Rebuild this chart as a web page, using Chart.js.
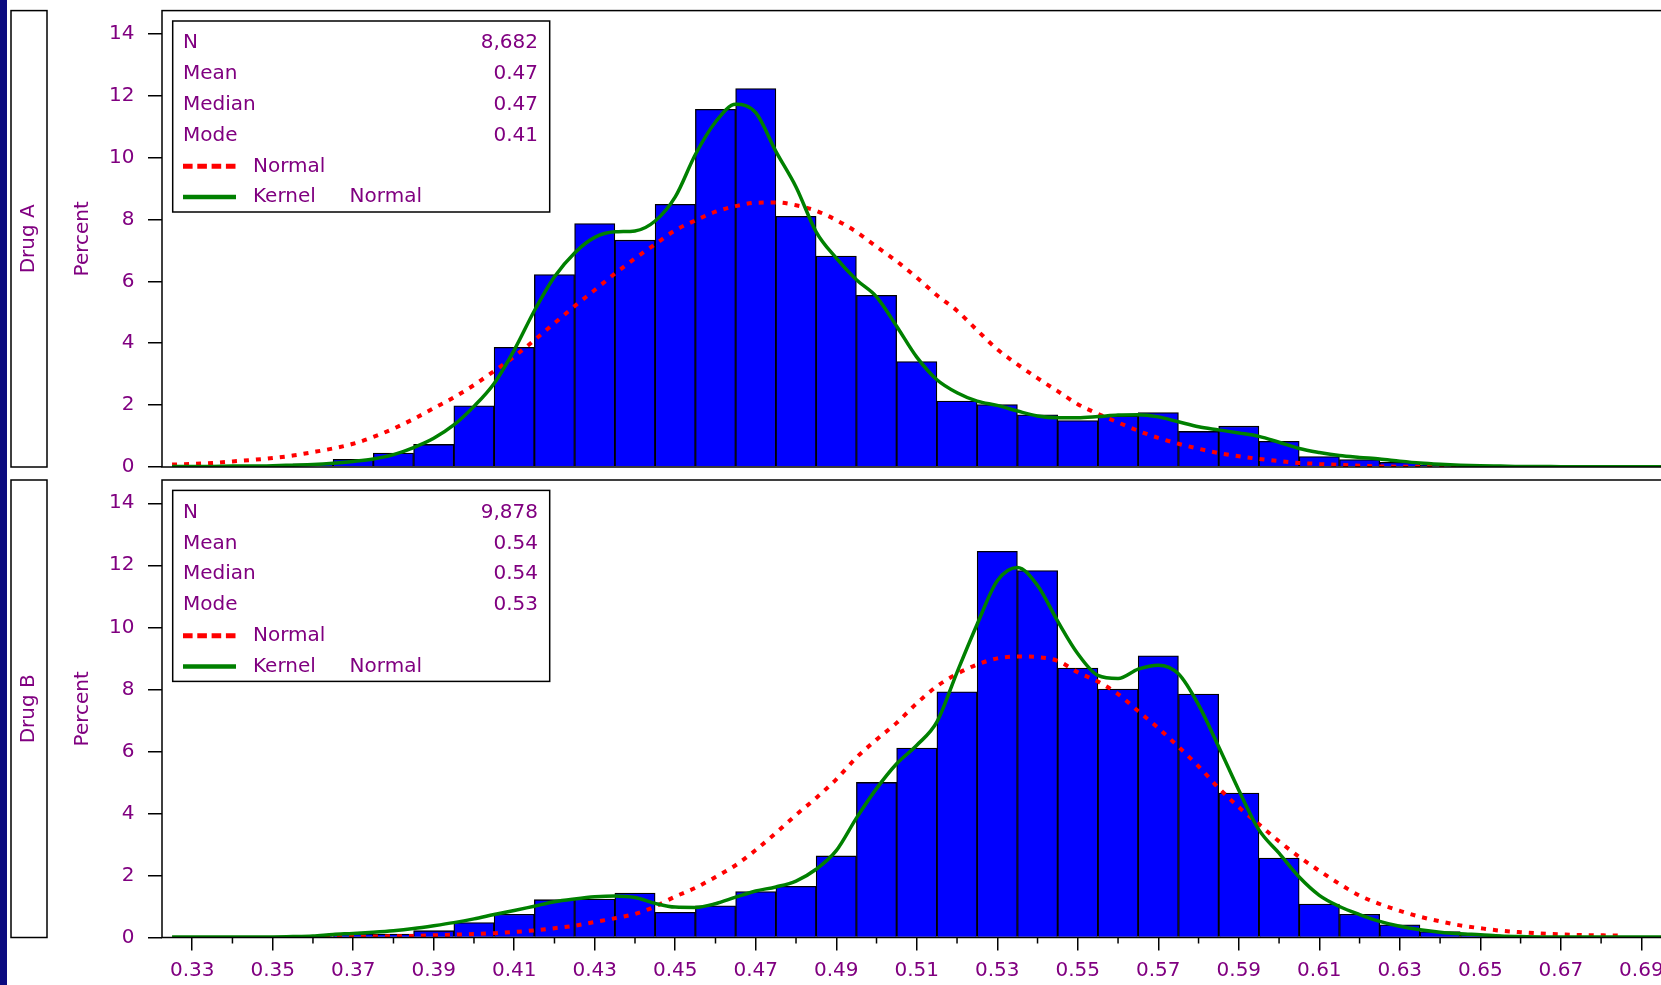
<!DOCTYPE html>
<html>
<head>
<meta charset="utf-8">
<title>Drug A / Drug B histograms</title>
<script src="https://cdn.jsdelivr.net/npm/chart.js@4.4.1/dist/chart.umd.min.js"></script>
<style>
  html, body { margin: 0; padding: 0; background: #fff; overflow: hidden; }
  body { width: 1661px; height: 985px; position: relative; }
  #navy { position: absolute; left: 0; top: 0; width: 7px; height: 985px; background: #0b0b80; }
  .panel { position: absolute; left: 0; }
  #panelA { top: 0; }
  #panelB { top: 470px; }
</style>
</head>
<body>
<div id="navy"></div>
<div class="panel" id="panelB"><canvas id="chartB" width="1680" height="515"></canvas></div>
<div class="panel" id="panelA"><canvas id="chartA" width="1680" height="482"></canvas></div>
<script>
// --- Data ---
const binCenters = [0.33, 0.34, 0.35, 0.36, 0.37, 0.38, 0.39, 0.40, 0.41, 0.42,
                    0.43, 0.44, 0.45, 0.46, 0.47, 0.48, 0.49, 0.50, 0.51, 0.52,
                    0.53, 0.54, 0.55, 0.56, 0.57, 0.58, 0.59, 0.60, 0.61, 0.62,
                    0.63, 0.64, 0.65, 0.66, 0.67, 0.68, 0.69];

const drugABars = [null, 0.02, 0.04, 0.10, 0.25, 0.45, 0.73, 1.98, 3.87, 6.22,
                   7.87, 7.33, 8.49, 11.56, 12.23, 8.10, 6.82, 5.55, 3.41, 2.13,
                   2.02, 1.69, 1.50, 1.65, 1.76, 1.15, 1.32, 0.83, 0.34, 0.24,
                   0.15, 0.05, null, null, null, null, null];

const drugBBars = [null, null, null, 0.03, 0.12, 0.11, 0.22, 0.48, 0.75, 1.22,
                   1.24, 1.43, 0.81, 1.02, 1.48, 1.65, 2.63, 5.00, 6.11, 7.92,
                   12.45, 11.83, 8.69, 8.01, 9.08, 7.85, 4.66, 2.56, 1.08, 0.75,
                   0.41, 0.19, 0.09, 0.03, null, null, null];

// x positions where the two fitted curves were read
const curveX = [0.325, 0.33, 0.335, 0.34, 0.345, 0.35, 0.355, 0.36, 0.365, 0.37,
                0.375, 0.38, 0.385, 0.39, 0.395, 0.40, 0.405, 0.41, 0.415, 0.42,
                0.425, 0.43, 0.435, 0.44, 0.445, 0.45, 0.455, 0.46, 0.465, 0.47,
                0.475, 0.48, 0.485, 0.49, 0.495, 0.50, 0.505, 0.51, 0.515, 0.52,
                0.525, 0.53, 0.535, 0.54, 0.545, 0.55, 0.555, 0.56, 0.565, 0.57,
                0.575, 0.58, 0.585, 0.59, 0.595, 0.60, 0.605, 0.61, 0.615, 0.62,
                0.625, 0.63, 0.635, 0.64, 0.645, 0.65, 0.655, 0.66, 0.665, 0.67,
                0.675, 0.68, 0.685, 0.69, 0.695];

const drugANormal = [0.08, 0.10, 0.13, 0.18, 0.23, 0.29, 0.37, 0.48, 0.60, 0.75,
                     0.97, 1.24, 1.55, 1.90, 2.25, 2.65, 3.10, 3.57, 4.10, 4.65,
                     5.20, 5.72, 6.25, 6.74, 7.20, 7.65, 7.97, 8.25, 8.43, 8.54,
                     8.55, 8.46, 8.28, 7.98, 7.60, 7.12, 6.65, 6.12, 5.55, 5.05,
                     4.42, 3.80, 3.32, 2.87, 2.45, 2.03, 1.72, 1.44, 1.17, 0.94,
                     0.75, 0.59, 0.45, 0.35, 0.26, 0.19, 0.13, 0.10, 0.07, 0.04,
                     0.02, 0.01, 0.01, 0.00, 0.00, null, null, null, null, null,
                     null, null, null, null, null];

const drugAKernel = [0.02, 0.02, 0.02, 0.03, 0.03, 0.04, 0.06, 0.08, 0.12, 0.18,
                     0.26, 0.40, 0.63, 0.93, 1.36, 1.96, 2.70, 3.78, 5.05, 6.15,
                     6.92, 7.42, 7.60, 7.63, 7.95, 8.73, 10.10, 11.15, 11.72, 11.45,
                     10.20, 9.05, 7.60, 6.75, 6.05, 5.50, 4.55, 3.55, 2.82, 2.40,
                     2.13, 1.99, 1.81, 1.65, 1.59, 1.59, 1.63, 1.68, 1.69, 1.62,
                     1.46, 1.30, 1.20, 1.10, 0.99, 0.80, 0.60, 0.47, 0.37, 0.31,
                     0.26, 0.19, 0.13, 0.09, 0.06, 0.04, 0.03, 0.02, 0.02, 0.01,
                     0.01, 0.01, 0.01, 0.01, 0.01];

const drugBNormal = [null, null, null, null, null, null, null, 0.00, 0.01, 0.02,
                     0.03, 0.04, 0.05, 0.07, 0.09, 0.11, 0.14, 0.18, 0.23, 0.30,
                     0.38, 0.50, 0.62, 0.76, 1.00, 1.32, 1.60, 1.95, 2.33, 2.82,
                     3.37, 3.95, 4.50, 5.10, 5.80, 6.38, 6.92, 7.55, 8.10, 8.50,
                     8.80, 9.00, 9.06, 9.04, 8.92, 8.55, 8.25, 7.85, 7.30, 6.75,
                     6.15, 5.52, 4.82, 4.20, 3.65, 3.10, 2.60, 2.15, 1.73, 1.35,
                     1.08, 0.86, 0.67, 0.52, 0.39, 0.30, 0.22, 0.17, 0.13, 0.10,
                     0.08, 0.07, 0.06, null, null];

const drugBKernel = [0.02, 0.02, 0.02, 0.02, 0.02, 0.02, 0.03, 0.05, 0.10, 0.13,
                     0.17, 0.22, 0.29, 0.38, 0.48, 0.60, 0.74, 0.87, 1.01, 1.15,
                     1.24, 1.31, 1.34, 1.29, 1.10, 0.98, 0.97, 1.09, 1.30, 1.50,
                     1.63, 1.82, 2.20, 2.80, 3.85, 4.80, 5.60, 6.20, 6.95, 8.55,
                     10.10, 11.50, 11.93, 11.35, 10.20, 9.15, 8.45, 8.35, 8.65, 8.78,
                     8.50, 7.50, 6.15, 4.75, 3.47, 2.72, 1.95, 1.36, 1.00, 0.74,
                     0.52, 0.36, 0.25, 0.17, 0.12, 0.09, 0.05, 0.03, 0.02, 0.02,
                     0.02, 0.02, 0.02, 0.02, 0.02];

const xTickLabels = ['0.33', '0.35', '0.37', '0.39', '0.41', '0.43', '0.45', '0.47', '0.49', '0.51',
                     '0.53', '0.55', '0.57', '0.59', '0.61', '0.63', '0.65', '0.67', '0.69'];
const xMinorTicks = [0.34, 0.36, 0.38, 0.40, 0.42, 0.44, 0.46, 0.48, 0.50, 0.52,
                     0.54, 0.56, 0.58, 0.60, 0.62, 0.64, 0.66, 0.68];

const statLabels = ['N', 'Mean', 'Median', 'Mode'];
const drugAStats = ['8,682', '0.47', '0.47', '0.41'];
const drugBStats = ['9,878', '0.54', '0.54', '0.53'];

// --- Styles ---
const PURPLE = '#800080';
const FONT_FAMILY = "'DejaVu Sans', sans-serif";
const FONT_SIZE = 20;
const FONT = FONT_SIZE + 'px ' + FONT_FAMILY;

Chart.defaults.font.family = FONT_FAMILY;
Chart.defaults.font.size = FONT_SIZE;
Chart.defaults.color = PURPLE;

// strip label, frame, legend box and minor x ticks
const panelDecor = {
    id: 'panelDecor',
    afterDraw(chart, args, opts) {
        const ctx = chart.ctx;
        const a = chart.chartArea;
        ctx.save();

        // plot frame
        ctx.strokeStyle = '#000';
        ctx.lineWidth = 1.5;
        ctx.setLineDash([]);
        ctx.strokeRect(a.left, a.top, a.right - a.left + 20, a.bottom - a.top);

        // strip box with the group name
        ctx.strokeRect(11, a.top, 36, a.bottom - a.top);
        ctx.save();
        ctx.fillStyle = PURPLE;
        ctx.font = FONT;
        ctx.translate(29, (a.top + a.bottom) / 2);
        ctx.rotate(-Math.PI / 2);
        ctx.textAlign = 'center';
        ctx.textBaseline = 'middle';
        ctx.fillText(opts.label, 0, 0);
        ctx.restore();

        // legend / stats box
        ctx.lineWidth = 1.5;
        ctx.strokeStyle = '#000';
        ctx.strokeRect(a.left + 10.7, a.top + 10.4, 377, 191);
        ctx.font = FONT;
        ctx.fillStyle = PURPLE;
        ctx.textBaseline = 'middle';
        const rowY = i => a.top + 32.5 + i * 30.8;
        statLabels.forEach((s, i) => {
            ctx.textAlign = 'left';
            ctx.fillText(s, a.left + 21, rowY(i));
            ctx.textAlign = 'right';
            ctx.fillText(opts.stats[i], a.left + 376, rowY(i));
        });
        ctx.textAlign = 'left';
        // Normal entry
        let y = rowY(4);
        ctx.strokeStyle = '#ff0000';
        ctx.lineWidth = 5;
        ctx.setLineDash([9.6, 4.7]);
        ctx.beginPath();
        ctx.moveTo(a.left + 21, y);
        ctx.lineTo(a.left + 74, y);
        ctx.stroke();
        ctx.fillText('Normal', a.left + 91, y);
        // Kernel entry
        y = rowY(5);
        ctx.strokeStyle = '#008000';
        ctx.lineWidth = 4.5;
        ctx.setLineDash([]);
        ctx.beginPath();
        ctx.moveTo(a.left + 21, y);
        ctx.lineTo(a.left + 74, y);
        ctx.stroke();
        ctx.fillText('Kernel', a.left + 91, y);
        ctx.fillText('Normal', a.left + 187.6, y);

        // minor ticks on the bottom axis
        if (opts.showX) {
            const xs = chart.scales.x;
            ctx.strokeStyle = '#000';
            ctx.lineWidth = 1.5;
            xMinorTicks.forEach(v => {
                const px = xs.getPixelForValue(v);
                ctx.beginPath();
                ctx.moveTo(px, a.bottom);
                ctx.lineTo(px, a.bottom + 6);
                ctx.stroke();
            });
        }
        ctx.restore();
    }
};

function makePanel(canvasId, bars, normal, kernel, label, stats, showX) {
    const ctx = document.getElementById(canvasId).getContext('2d');
    return new Chart(ctx, {
        type: 'bar',
        data: {
            datasets: [
                {
                    type: 'line',
                    label: 'Kernel Normal',
                    data: curveX.map((x, i) => ({ x: x, y: kernel[i] })),
                    borderColor: '#008000',
                    borderWidth: 3.5,
                    pointRadius: 0,
                    fill: false,
                    cubicInterpolationMode: 'monotone',
                    order: 1
                },
                {
                    type: 'line',
                    label: 'Normal',
                    data: curveX.map((x, i) => ({ x: x, y: normal[i] })),
                    borderColor: '#ff0000',
                    borderWidth: 4,
                    borderDash: [5, 7],
                    pointRadius: 0,
                    fill: false,
                    spanGaps: false,
                    cubicInterpolationMode: 'monotone',
                    order: 2
                },
                {
                    type: 'bar',
                    label: 'Percent',
                    data: binCenters.map((x, i) => ({ x: x, y: bars[i] })),
                    backgroundColor: '#0000ff',
                    borderColor: '#000000',
                    borderWidth: 1.3,
                    barPercentage: 1,
                    categoryPercentage: 1,
                    grouped: false,
                    order: 3
                }
            ]
        },
        options: {
            responsive: false,
            animation: false,
            events: [],
            layout: {
                padding: showX ? { left: 60, top: 10, right: 0, bottom: 0 }
                               : { left: 60, top: 10.6, right: 0, bottom: 15 }
            },
            scales: {
                x: {
                    type: 'linear',
                    display: showX,
                    min: 0.3225,
                    max: 0.6996,
                    offset: false,
                    border: { display: false },
                    grid: { drawOnChartArea: false, offset: false, tickLength: 13, color: '#000', lineWidth: 1.5 },
                    afterBuildTicks: scale => {
                        scale.ticks = xTickLabels.map(l => ({ value: parseFloat(l) }));
                    },
                    ticks: {
                        autoSkip: false,
                        maxRotation: 0,
                        padding: 8.5,
                        callback: v => v.toFixed(2)
                    },
                    afterFit: scale => {
                        scale.height = showX ? 47.5 : 0;
                        scale.paddingLeft = 0;
                        scale.paddingRight = 0;
                    }
                },
                y: {
                    type: 'linear',
                    min: 0,
                    max: 14.75,
                    border: { display: false },
                    grid: { drawOnChartArea: false, tickLength: 14, color: '#000', lineWidth: 1.5 },
                    ticks: { stepSize: 2, includeBounds: false, padding: 13.5 },
                    title: { display: true, text: 'Percent', padding: { top: 11, bottom: 0 } },
                    afterFit: scale => {
                        scale.width = 102;
                        scale.paddingTop = 0;
                        scale.paddingBottom = 0;
                    }
                }
            },
            plugins: {
                legend: { display: false },
                tooltip: { enabled: false },
                panelDecor: { label: label, stats: stats, showX: showX }
            }
        },
        plugins: [panelDecor]
    });
}

makePanel('chartA', drugABars, drugANormal, drugAKernel, 'Drug A', drugAStats, false);
makePanel('chartB', drugBBars, drugBNormal, drugBKernel, 'Drug B', drugBStats, true);
</script>
</body>
</html>
